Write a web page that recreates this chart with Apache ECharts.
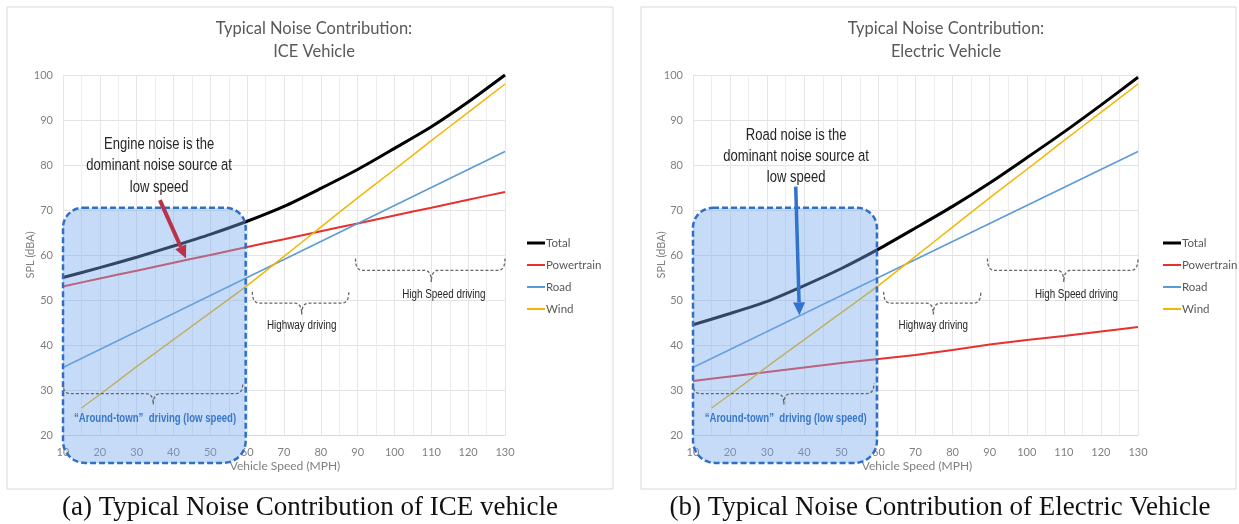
<!DOCTYPE html>
<html><head><meta charset="utf-8">
<script src="https://cdn.jsdelivr.net/npm/echarts@6/dist/echarts.min.js"></script>
<style>html,body{margin:0;padding:0;background:#fff}#c{width:1239px;height:524px}</style>
</head><body><div id="c"></div>
<script>
// ---- data ----
const speeds = [10, 20, 30, 40, 50, 60, 70, 80, 90, 100, 110, 120, 130];
const windSpeeds = [15, 20, 30, 40, 50, 60, 70, 80, 90, 100, 110, 120, 130];
const iceTotal = [55, 57.2, 59.5, 62, 64.6, 67.5, 70.8, 74.8, 79, 83.7, 88.5, 94, 100];
const icePowertrain = [53, 54.8, 56.5, 58.3, 60, 61.8, 63.5, 65.3, 67, 68.8, 70.5, 72.3, 74];
const iceRoad = [35, 39, 43, 47, 51, 55, 59, 63, 67, 71, 75, 79, 83];
const iceWind = [26, 29, 35.2, 41.2, 47.2, 53.2, 59.7, 66.2, 72.7, 79, 85.4, 91.7, 98];
const evTotal = [44.5, 47, 49.7, 53.2, 57, 61.3, 66, 70.8, 76, 81.6, 87.3, 93.3, 99.5];
const evPowertrain = [32, 33, 34, 35, 36, 36.9, 37.8, 38.9, 40.1, 41.1, 42, 43, 44];
const evRoad = [35, 39, 43, 47, 51, 55, 59, 63, 67, 71, 75, 79, 83];
const evWind = [26, 29, 35.2, 41.2, 47.2, 53.2, 59.7, 66.2, 72.7, 79, 85.4, 91.7, 98];
const seriesNames = ['Total', 'Powertrain', 'Road', 'Wind'];
const chartTitles = ['Typical Noise Contribution:\nICE Vehicle', 'Typical Noise Contribution:\nElectric Vehicle'];
const notes = ['Engine noise is the\ndominant noise source at\nlow speed', 'Road noise is the\ndominant noise source at\nlow speed'];
const captions = ['(a) Typical Noise Contribution of ICE vehicle', '(b) Typical Noise Contribution of Electric Vehicle'];
const xName = 'Vehicle Speed (MPH)';
const yName = 'SPL (dBA)';
const lowLabel = '\u201CAround-town\u201D  driving (low speed)';
const hwLabel = 'Highway driving';
const hsLabel = 'High Speed driving';

const colors = {Total: '#000000', Powertrain: '#e8312f', Road: '#5b9bd5', Wind: '#f2b705'};
const widths = {Total: 3, Powertrain: 2, Road: 1.5, Wind: 1.5};
const calibri = 'Lato, "Open Sans", sans-serif';
const arial = '"Liberation Sans", Arial, sans-serif';
const NARROW = 0.8; // horizontal squeeze that imitates a narrow sans face

const pair = (xs, ys) => xs.map((x, i) => [x, ys[i]]);
const sets = [
  {Total: pair(speeds, iceTotal), Powertrain: pair(speeds, icePowertrain), Road: pair(speeds, iceRoad), Wind: pair(windSpeeds, iceWind)},
  {Total: pair(speeds, evTotal), Powertrain: pair(speeds, evPowertrain), Road: pair(speeds, evRoad), Wind: pair(windSpeeds, evWind)}
];

const grids = [
  {left: 63, top: 75, width: 442, height: 360},
  {left: 693, top: 75, width: 445, height: 360}
];

function xAxis(i) {
  return {
    type: 'value', gridIndex: i, min: 10, max: 130, interval: 10,
    axisLine: {show: true, lineStyle: {color: '#d9d9d9'}},
    axisTick: {show: false},
    axisLabel: {color: '#7f7f7f', fontSize: 11, fontFamily: calibri, margin: 12},
    splitLine: {show: true, lineStyle: {color: '#e6e6e6'}},
    minorTick: {show: false, splitNumber: 2},
    minorSplitLine: {show: true, lineStyle: {color: '#ededed'}}
  };
}
function yAxis(i) {
  return {
    type: 'value', gridIndex: i, min: 20, max: 100, interval: 10,
    axisLine: {show: false}, axisTick: {show: false},
    axisLabel: {color: '#7f7f7f', fontSize: 11, fontFamily: calibri, margin: 10},
    splitLine: {show: true, lineStyle: {color: '#e3e3e3'}}
  };
}

// legend line icons: bounding box 18x12 with a bar of the series' line width in the middle
function legendIcon(w) {
  const a = 6 - w / 2, b = 6 + w / 2;
  return `path://M0,0L18,0L18,0.001L0,0.001ZM0,${a}L18,${a}L18,${b}L0,${b}ZM0,11.999L18,11.999L18,12L0,12Z`;
}
const legendData = seriesNames.map(n => ({name: n, icon: legendIcon(widths[n] === 3 ? 3.2 : 2)}));

const series = [];
[0, 1].forEach(g => {
  seriesNames.forEach(n => {
    series.push({
      name: n, type: 'line', xAxisIndex: g, yAxisIndex: g,
      data: sets[g][n], showSymbol: false, symbol: 'none', smooth: 0.25,
      lineStyle: {color: colors[n], width: widths[n]},
      itemStyle: {color: colors[n]}, z: n === 'Total' ? 4 : 3, silent: true
    });
  });
});

const chart = echarts.init(document.getElementById('c'), null, {renderer: 'canvas'});
const legendCommon = {orient: 'vertical', padding: 0, itemWidth: 18, itemHeight: 12, itemGap: 10, data: legendData,
  textStyle: {fontFamily: calibri, fontSize: 11.5, color: '#595959', padding: [0, 0, 0, -4]}};
const titleText = {fontFamily: calibri, fontSize: 16.5, fontWeight: 'normal', color: '#595959', lineHeight: 23};
chart.setOption({
  animation: false,
  backgroundColor: '#ffffff',
  title: [
    {text: chartTitles[0], left: 309, top: 12, textAlign: 'center', textStyle: titleText},
    {text: chartTitles[1], left: 941, top: 12, textAlign: 'center', textStyle: titleText}
  ],
  legend: [
    Object.assign({left: 527, top: 237}, legendCommon),
    Object.assign({left: 1163, top: 237}, legendCommon)
  ],
  grid: grids,
  xAxis: [xAxis(0), xAxis(1)],
  yAxis: [yAxis(0), yAxis(1)],
  series: series
});

// ---- annotations, placed through the axes ----
function P(g, x, y) { return chart.convertToPixel({gridIndex: g}, [x, y]); }

function quad(p0, c, p1, out) {
  for (let i = 1; i <= 8; i++) {
    const t = i / 8, u = 1 - t;
    out.push([u * u * p0[0] + 2 * u * t * c[0] + t * t * p1[0], u * u * p0[1] + 2 * u * t * c[1] + t * t * p1[1]]);
  }
}
function brace(g, x0, x1, xm, yTop, yFlat, yTip) {
  const a = P(g, x0, yTop), b = P(g, x0, yFlat), m = P(g, xm, yFlat), t = P(g, xm, yTip), e = P(g, x1, yFlat), f = P(g, x1, yTop);
  const r = 7;
  const pts = [a];
  quad(a, b, [b[0] + r, b[1]], pts);
  pts.push([m[0] - r, m[1]]);
  quad([m[0] - r, m[1]], m, t, pts);
  quad(t, m, [m[0] + r, m[1]], pts);
  pts.push([e[0] - r, e[1]]);
  quad([e[0] - r, e[1]], e, f, pts);
  return {type: 'polyline', z: 20, shape: {points: pts}, style: {fill: null, stroke: '#666666', lineWidth: 1.3, lineDash: [3, 2]}};
}
function arrow(g, from, to, color, w) {
  const p0 = P(g, from[0], from[1]), p1 = P(g, to[0], to[1]);
  const dx = p1[0] - p0[0], dy = p1[1] - p0[1], L = Math.hypot(dx, dy);
  const ux = dx / L, uy = dy / L, hl = 13, hw = 6;
  const bx = p1[0] - ux * hl, by = p1[1] - uy * hl;
  return [
    {type: 'line', z: 30, shape: {x1: p0[0], y1: p0[1], x2: bx, y2: by}, style: {stroke: color, lineWidth: w}},
    {type: 'polygon', z: 30, shape: {points: [[p1[0], p1[1]], [bx - uy * hw, by + ux * hw], [bx + uy * hw, by - ux * hw]]}, style: {fill: color}}
  ];
}
function label(g, x, y, text, style) {
  const p = P(g, x, y);
  return {type: 'text', z: 30, x: p[0], y: p[1], scaleX: NARROW,
    style: Object.assign({text: text, align: 'center', verticalAlign: 'middle'}, style)};
}

const capFont = '27px "Liberation Serif", "DejaVu Serif", serif';
const gfx = [
  {type: 'rect', z: -10, shape: {x: 7, y: 7, width: 606, height: 482}, style: {fill: '#fff', stroke: '#d9d9d9', lineWidth: 1}},
  {type: 'rect', z: -10, shape: {x: 641, y: 7, width: 595, height: 482}, style: {fill: '#fff', stroke: '#d9d9d9', lineWidth: 1}},
  {type: 'text', x: 310, y: 508, style: {text: captions[0], font: capFont, fill: '#111', align: 'center', verticalAlign: 'middle'}},
  {type: 'text', x: 940, y: 508, style: {text: captions[1], font: capFont, fill: '#111', align: 'center', verticalAlign: 'middle'}},
  {type: 'text', x: 285, y: 466, style: {text: xName, font: '12px ' + calibri, fill: '#7f7f7f', align: 'center', verticalAlign: 'middle'}},
  {type: 'text', x: 917, y: 466, style: {text: xName, font: '12px ' + calibri, fill: '#7f7f7f', align: 'center', verticalAlign: 'middle'}},
  {type: 'text', x: 30, y: 255, rotation: Math.PI / 2, style: {text: yName, font: '11px ' + calibri, fill: '#7f7f7f', align: 'center', verticalAlign: 'middle'}},
  {type: 'text', x: 661, y: 255, rotation: Math.PI / 2, style: {text: yName, font: '11px ' + calibri, fill: '#7f7f7f', align: 'center', verticalAlign: 'middle'}}
];

[0, 1].forEach(g => {
  const tl = P(g, 10, 70.5), br = P(g, 59.6, 13.8);
  gfx.push({type: 'rect', z: 15, shape: {x: tl[0], y: tl[1], width: br[0] - tl[0], height: br[1] - tl[1], r: [20, 20, 22, 22]},
    style: {fill: 'rgba(120,170,235,0.42)', stroke: '#2f6fc7', lineWidth: 2.5, lineDash: [6, 3]}});
  gfx.push(brace(g, 10, 58.8, 34.5, 31.5, 29.2, 26.8));
  gfx.push(brace(g, 61.4, 87.6, 74.8, 51.8, 49.3, 46.8));
  gfx.push(brace(g, 89.4, 130, 110, 59.2, 56.6, 54));
  gfx.push(label(g, 35, 23.6, lowLabel, {font: 'bold 12px ' + arial, fill: '#3a78c9'}));
  gfx.push(label(g, 74.8, 44.2, hwLabel, {font: '12.3px ' + arial, fill: '#262626'}));
  gfx.push(label(g, 113.4, 51.2, hsLabel, {font: '12.3px ' + arial, fill: '#262626'}));
});
gfx.push(label(0, 36.1, 79.8, notes[0], {font: '16.3px ' + arial, fill: '#262626', lineHeight: 21.5}));
gfx.push(label(1, 37.8, 81.8, notes[1], {font: '16.3px ' + arial, fill: '#262626', lineHeight: 21}));
gfx.push.apply(gfx, arrow(0, [36.3, 72.2], [43.4, 59.2], '#b8344b', 4));
gfx.push.apply(gfx, arrow(1, [37.7, 75.2], [38.7, 46.6], '#2f72cf', 3.5));

chart.setOption({graphic: gfx});
</script></body></html>
